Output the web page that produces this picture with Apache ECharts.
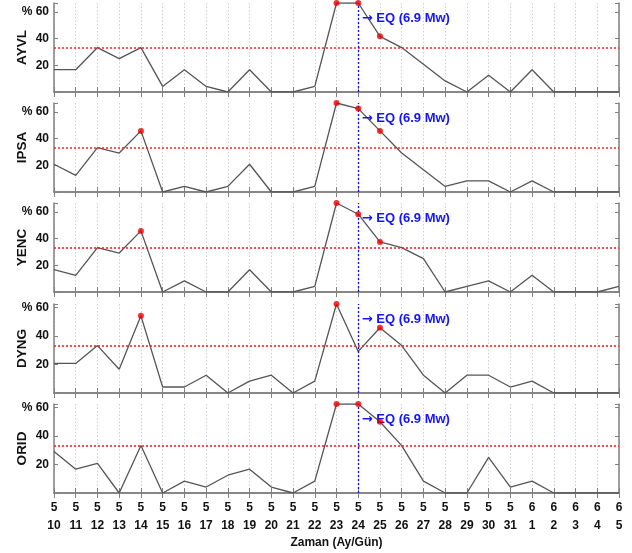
<!DOCTYPE html>
<html>
<head>
<meta charset="utf-8">
<script src="https://cdn.jsdelivr.net/npm/echarts@6/dist/echarts.min.js"></script>
<style>
html,body{margin:0;padding:0;background:#fff;}
#c{width:632px;height:553px;}
</style>
</head>
<body>
<div id="c"></div>
<script>
// ---- data ----
const months = [5,5,5,5,5,5,5,5,5,5,5,5,5,5,5,5,5,5,5,5,5,5,6,6,6,6,6];
const days   = [10,11,12,13,14,15,16,17,18,19,20,21,22,23,24,25,26,27,28,29,30,31,1,2,3,4,5];
const categories = days.map((d, i) => months[i] + '/' + d);

const stations = ['AYVL', 'IPSA', 'YENC', 'DYNG', 'ORID'];
const ayvl = [16.7,16.7,33.3,25,33.3,4.2,16.7,4.2,0,16.7,0,0,4.2,66.7,66.7,41.7,33.3,20.8,8.3,0,12.5,0,16.7,0,0,0,0];
const ipsa = [20.8,12.5,33.3,29.2,45.8,0,4.2,0,4.2,20.8,0,0,4.2,66.7,62.5,45.8,29.2,16.7,4.2,8.3,8.3,0,8.3,0,0,0,0];
const yenc = [16.7,12.5,33.3,29.2,45.8,0,8.3,0,0,16.7,0,0,4.2,66.7,58.3,37.5,33.3,25,0,4.2,8.3,0,12.5,0,0,0,4.2];
const dyng = [20.8,20.8,33.3,16.7,54.2,4.2,4.2,12.5,0,8.3,12.5,0,8.3,62.5,29.2,45.8,33.3,12.5,0,12.5,12.5,4.2,8.3,0,0,0,0];
const orid = [29.2,16.7,20.8,0,33.3,0,8.3,4.2,12.5,16.7,4.2,0,8.3,62.5,62.5,50,33.3,8.3,0,0,25,4.2,8.3,0,0,0,0];
const seriesValues = [ayvl, ipsa, yenc, dyng, orid];
const redIdx = [[13,14,15],[4,13,14,15],[4,13,14,15],[4,13,15],[13,14,15]];
const yMax = [66.7, 66.7, 66.7, 62.5, 62.5];
const yTicks = [20, 40, 60];
const threshold = 33.3;
const eqIndex = 14;
const eqArrow = '\u2192';
const eqText = 'EQ (6.9 Mw)';
const xTitle = 'Zaman (Ay/Gün)';

// ---- layout ----
const FONT = "'Liberation Sans', Arial, sans-serif";
const tops = [3, 103, 203, 304, 404];
const H = 89;
const frame = '#808080';

const grid = [], xAxis = [], yAxis = [], series = [];
stations.forEach((name, k) => {
  grid.push({left: 54, right: 13, top: tops[k], height: H, containLabel: false, outerBoundsMode: 'none'});
  const last = k === stations.length - 1;
  // bottom x
  xAxis.push({
    type: 'category', gridIndex: k, data: categories, boundaryGap: false, position: 'bottom',
    axisLine: {show: true, lineStyle: {color: frame, width: 1.5}},
    axisTick: {show: true, inside: true, length: 5, interval: 0, lineStyle: {color: frame}},
    splitLine: {show: true, interval: 0, lineStyle: {color: '#cfcfcf', type: [1.5, 2], width: 1}},
    axisLabel: last ? {
      show: true, interval: 0, margin: 6,
      formatter: (v, i) => months[i] + '\n' + days[i],
      fontFamily: FONT, fontWeight: 'bold', fontSize: 12, color: '#111', lineHeight: 18
    } : {show: false},
    name: last ? xTitle : '', nameLocation: 'middle', nameGap: 44, nameMoveOverlap: false,
    nameTextStyle: {fontFamily: FONT, fontWeight: 'bold', fontSize: 12, color: '#111'}
  });
  // top x (ticks only)
  xAxis.push({
    type: 'category', gridIndex: k, data: categories, boundaryGap: false, position: 'top',
    axisLine: {show: true, lineStyle: {color: frame, width: 1.5}},
    axisTick: {show: true, inside: true, length: 5, interval: 0, lineStyle: {color: frame}},
    axisLabel: {show: false}, splitLine: {show: false}
  });
  const yCommon = {
    type: 'value', gridIndex: k, min: 0, max: yMax[k], interval: 20,
    axisLine: {show: true, lineStyle: {color: frame, width: 1.5}},
    axisTick: {show: true, inside: true, length: 4, lineStyle: {color: frame}},
    splitLine: {show: false}
  };
  yAxis.push(Object.assign({}, yCommon, {
    position: 'left',
    axisLabel: {
      show: true, margin: 5, fontFamily: FONT, fontWeight: 'bold', fontSize: 12, color: '#111',
      formatter: v => {
        const r = Math.round(v);
        if (Math.abs(v - r) > 0.01 || yTicks.indexOf(r) < 0) return '';
        return r === 60 ? '% 60' : String(r);
      }
    },
    name: name, nameLocation: 'middle', nameGap: 25, nameRotate: 90, nameMoveOverlap: false,
    nameTextStyle: {fontFamily: FONT, fontWeight: 'bold', fontSize: 13.5, color: '#111'}
  }));
  yAxis.push(Object.assign({}, yCommon, {position: 'right', axisLabel: {show: false}}));

  const vals = seriesValues[k];
  series.push({
    type: 'line', xAxisIndex: 2 * k, yAxisIndex: 2 * k, data: vals,
    symbol: 'none', silent: true, animation: false,
    lineStyle: {color: '#555', width: 1.3},
    markLine: {
      silent: true, symbol: 'none', animation: false, label: {show: false},
      data: [
        {yAxis: threshold, lineStyle: {color: '#ff2020', type: [2, 2], width: 1.6}},
        {xAxis: eqIndex, lineStyle: {color: '#1010ff', type: [2, 2], width: 1.3}}
      ]
    },
    markPoint: {
      silent: true, animation: false, symbol: 'circle', symbolSize: 1,
      itemStyle: {color: 'rgba(0,0,0,0)'},
      label: {
        show: true, position: 'right', distance: 3, offset: [0, 15.5],
        formatter: '{a|' + eqArrow + '} ' + eqText,
        fontFamily: FONT, fontWeight: 'bold', fontSize: 13, color: '#1414ff',
        rich: {a: {fontFamily: "'DejaVu Sans', sans-serif", fontWeight: 'bold', fontSize: 13, color: '#1414ff'}}
      },
      data: [{coord: [eqIndex, yMax[k]], value: 0}]
    },
    z: 3
  });
  series.push({
    type: 'scatter', xAxisIndex: 2 * k, yAxisIndex: 2 * k,
    data: redIdx[k].map(i => [i, vals[i]]),
    symbol: 'circle', symbolSize: 6, silent: true, animation: false,
    itemStyle: {color: '#ee0000'}, z: 5
  });
});

const chart = echarts.init(document.getElementById('c'), null, {renderer: 'canvas'});
chart.setOption({
  backgroundColor: '#fff',
  animation: false,
  grid, xAxis, yAxis, series
});
</script>
</body>
</html>
